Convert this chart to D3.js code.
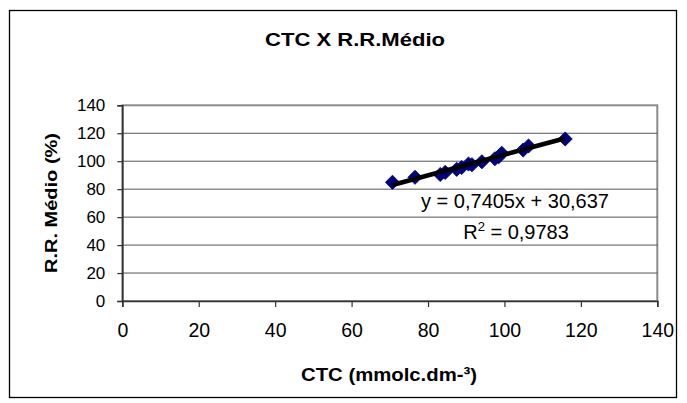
<!DOCTYPE html>
<html><head><meta charset="utf-8">
<script src="https://cdn.jsdelivr.net/npm/d3@7"></script>
<style>html,body{margin:0;padding:0;background:#fff;}svg{display:block;}</style>
</head><body>
<svg id="c" width="687" height="403"></svg>
<script>
const ctc = [70.7, 76.6, 83.2, 84.5, 87.5, 88.8, 90.6, 91.5, 94.1, 97.5, 98.5, 99.3, 104.9, 106.3, 115.9];
const rrMedio = [84.9, 88.5, 90.5, 92.0, 94.2, 95.5, 98.0, 97.5, 99.6, 101.8, 103.2, 105.7, 108.0, 110.9, 115.9];
const xTicks = [0, 20, 40, 60, 80, 100, 120, 140];
const yTicks = [0, 20, 40, 60, 80, 100, 120, 140];
const slope = 0.7405, intercept = 30.637;
const eqLabel = "y = 0,7405x + 30,637";
const r2Label = "0,9783";
const title = "CTC X R.R.Médio";
const xTitle = "CTC (mmolc.dm-³)";
const yTitle = "R.R. Médio (%)";

const svg = d3.select("#c");
const font = "Liberation Sans, Arial, sans-serif";
const x = d3.scaleLinear().domain([0, 140]).range([122.3, 657.3]);
const y = d3.scaleLinear().domain([0, 140]).range([301, 105.3]);

// outer frame
svg.append("rect").attr("x", 9.5).attr("y", 10.5).attr("width", 667).attr("height", 387)
  .attr("fill", "#fff").attr("stroke", "#000").attr("stroke-width", 1.3);

// plot area frame
svg.append("rect").attr("x", x(0)).attr("y", y(140)).attr("width", x(140) - x(0)).attr("height", y(0) - y(140))
  .attr("fill", "#fff").attr("stroke", "#8a8a8a").attr("stroke-width", 2);

// gridlines
svg.append("g").selectAll("line").data(yTicks.filter(d => d > 0 && d < 140)).join("line")
  .attr("x1", x(0)).attr("x2", x(140)).attr("y1", d => y(d)).attr("y2", d => y(d))
  .attr("stroke", "#555").attr("stroke-width", 1);

// axes
const gx = svg.append("g").attr("transform", `translate(0,${y(0)})`)
  .call(d3.axisBottom(x).tickValues(xTicks).tickSize(6).tickPadding(16).tickFormat(d3.format("d")));
const gy = svg.append("g").attr("transform", `translate(${x(0)},0)`)
  .call(d3.axisLeft(y).tickValues(yTicks).tickSize(5).tickPadding(12).tickFormat(d3.format("d")));
[gx, gy].forEach(g => {
  g.select(".domain").attr("stroke", "#333").attr("stroke-width", 1.6);
  g.selectAll(".tick line").attr("stroke", "#333").attr("stroke-width", 1.2);
  g.selectAll("text").attr("fill", "#000").attr("font-family", font);
});
gx.selectAll("text").attr("font-size", 19.5);
gy.selectAll("text").attr("font-size", 17);

const xmin = d3.min(ctc), xmax = d3.max(ctc);
// data points
const pts = ctc.map((v, i) => [v, rrMedio[i]]);
const sym = d3.symbol().type(d3.symbolSquare).size(100);
svg.append("g").selectAll("path").data(pts).join("path")
  .attr("d", sym)
  .attr("transform", d => `translate(${x(d[0])},${y(d[1])}) rotate(45)`)
  .attr("fill", "#000080").attr("stroke", "#000080").attr("stroke-width", 0.8);
// trendline
svg.append("line")
  .attr("x1", x(xmin)).attr("y1", y(slope * xmin + intercept))
  .attr("x2", x(xmax)).attr("y2", y(slope * xmax + intercept))
  .attr("stroke", "#000").attr("stroke-width", 4.5).attr("stroke-linecap", "butt");

// equation labels
svg.append("text").attr("x", 515).attr("y", 207.5).attr("text-anchor", "middle")
  .attr("font-family", font).attr("font-size", 20).text(eqLabel);
const r2 = svg.append("text").attr("x", 516).attr("y", 238.5).attr("text-anchor", "middle")
  .attr("font-family", font).attr("font-size", 20);
r2.append("tspan").text("R");
r2.append("tspan").attr("font-size", 13).attr("dy", -8).text("2");
r2.append("tspan").attr("dy", 8).text(" = " + r2Label);

// titles
function fit(sel, len) { sel.attr("textLength", len).attr("lengthAdjust", "spacingAndGlyphs"); }
const t = svg.append("text").attr("x", 355).attr("y", 46).attr("text-anchor", "middle")
  .attr("font-family", font).attr("font-weight", "bold").attr("font-size", 19).text(title);
fit(t, 180);
const xt = svg.append("text").attr("x", 389).attr("y", 381).attr("text-anchor", "middle")
  .attr("font-family", font).attr("font-weight", "bold").attr("font-size", 19).text(xTitle);
fit(xt, 176);
const yt = svg.append("text").attr("transform", `translate(57,203) rotate(-90)`).attr("text-anchor", "middle")
  .attr("font-family", font).attr("font-weight", "bold").attr("font-size", 16).text(yTitle);
fit(yt, 140);
</script>
</body></html>
